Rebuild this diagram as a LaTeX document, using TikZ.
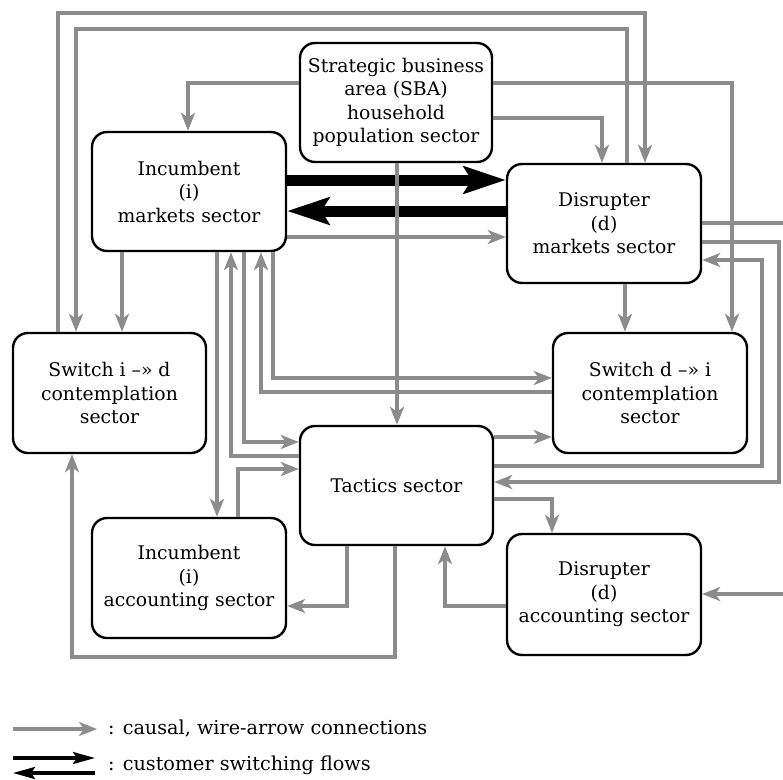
\documentclass[tikz,border=0pt]{standalone}
\usepackage{fontspec}
\setmainfont{DejaVu Serif}
\usetikzlibrary{arrows.meta}
\begin{document}
\begin{tikzpicture}[x=1pt,y=-1pt,
  sector/.style={draw, line width=2.4pt, rounded corners=15pt, align=center,
    inner sep=0pt, font=\fontsize{18.8}{23.5}\selectfont,
    minimum width=194pt, minimum height=119pt},
  wire/.style={draw=black!45, line width=4pt,
    -{Stealth[length=18pt,width=14pt,inset=5pt]}},
  flow/.style={draw=black, line width=11pt,
    -{Stealth[length=42pt,width=27pt,inset=8pt]}},
  legflow/.style={draw=black, line width=3.4pt,
    -{Stealth[length=22pt,width=12pt,inset=4pt]}},
  legtext/.style={anchor=west, inner sep=0pt, font=\fontsize{19.2}{22}\selectfont},
  ]
\useasboundingbox (0,0) rectangle (783,779);
\begin{scope}
\clip (0,0) rectangle (783,779);

% sectors
\node[sector, minimum width=192pt] (SBA) at (396,102.5)
  {Strategic business\\area (SBA)\\household\\population sector};
\node[sector] (IM)  at (189,191.5) {Incumbent\\(i)\\markets sector};
\node[sector] (DM)  at (604,223.5) {Disrupter\\(d)\\markets sector};
\node[sector, minimum width=193pt, minimum height=120pt] (SID) at (109.5,393)
  {Switch i –» d\\contemplation\\sector};
\node[sector, minimum height=120pt] (SDI) at (650,393)
  {Switch d –» i\\contemplation\\sector};
\node[sector, minimum width=193pt] (T) at (396.5,485.5) {Tactics sector};
\node[sector, minimum height=120pt] (IA) at (189,578) {Incumbent\\(i)\\accounting sector};
\node[sector, minimum height=121pt] (DA) at (604,594.5) {Disrupter\\(d)\\accounting sector};

% customer switching flows
\draw[flow] (IM.east |- 0,180) -- (DM.west |- 0,180);
\draw[flow] (DM.west |- 0,211) -- (IM.east |- 0,211);

% causal wires from the SBA sector
\draw[wire] (SBA.west |- 0,83) -| (IM.north -| 188,0);
\draw[wire] (SBA.east |- 0,83) -| (SDI.north -| 732,0);
\draw[wire] (SBA.east |- 0,118) -| (DM.north -| 602,0);
\draw[wire] (SBA.south -| 397,0) -- (T.north -| 397,0);

% the two loops over the top
\draw[wire] (SID.north -| 58,0) |- (645,13) -- (DM.north -| 645,0);
\draw[wire] (DM.north -| 627,0) |- (76,29) -- (SID.north -| 76,0);

% wires around the incumbent markets sector
\draw[wire] (IM.south -| 122,0) -- (SID.north -| 122,0);
\draw[wire] (IM.east |- 0,237) -- (DM.west |- 0,237);
\draw[wire] (IM.south -| 217,0) -- (IA.north -| 217,0);
\draw[wire] (T.west |- 0,456) -| (IM.south -| 231,0);
\draw[wire] (IM.south -| 244,0) |- (T.west |- 0,442);
\draw[wire] (SDI.west |- 0,392) -| (IM.south -| 261,0);
\draw[wire] (IM.south -| 273,0) |- (SDI.west |- 0,378);
\draw[wire] (IA.north -| 238,0) |- (T.west |- 0,469);

% wires around the disrupter markets sector
\draw[wire] (DM.south -| 625,0) -- (SDI.north -| 625,0);
\draw[wire] (T.east |- 0,437) -- (SDI.west |- 0,437);
\draw[wire] (T.east |- 0,466) -- (762,466) |- (DM.east |- 0,260);
\draw[wire] (DM.east |- 0,242) -- (779,242) |- (T.east |- 0,482);
\draw[wire] (DM.east |- 0,223) -- (800,223) |- (DA.east |- 0,594);

% wires below the tactics sector
\draw[wire] (T.east |- 0,499) -| (DA.north -| 552,0);
\draw[wire] (DA.west |- 0,606) -| (T.south -| 445,0);
\draw[wire] (T.south -| 347,0) |- (IA.east |- 0,606);
\draw[wire] (T.south -| 395,0) -- (395,657) -| (SID.south -| 72,0);
\end{scope}

% legend
\coordinate (k1a) at (13,729);
\coordinate (k1b) at (97,729);
\coordinate (k2a) at (13,758);
\coordinate (k2b) at (95,758);
\coordinate (k3a) at (95,773);
\coordinate (k3b) at (13,773);
\draw[wire] (k1a) -- (k1b);
\draw[legflow] (k2a) -- (k2b);
\draw[legflow] (k3a) -- (k3b);
\node[legtext] (key1) at (108,729) {: causal, wire-arrow connections};
\node[legtext] (key2) at (108,765) {: customer switching flows};
\end{tikzpicture}
\end{document}
